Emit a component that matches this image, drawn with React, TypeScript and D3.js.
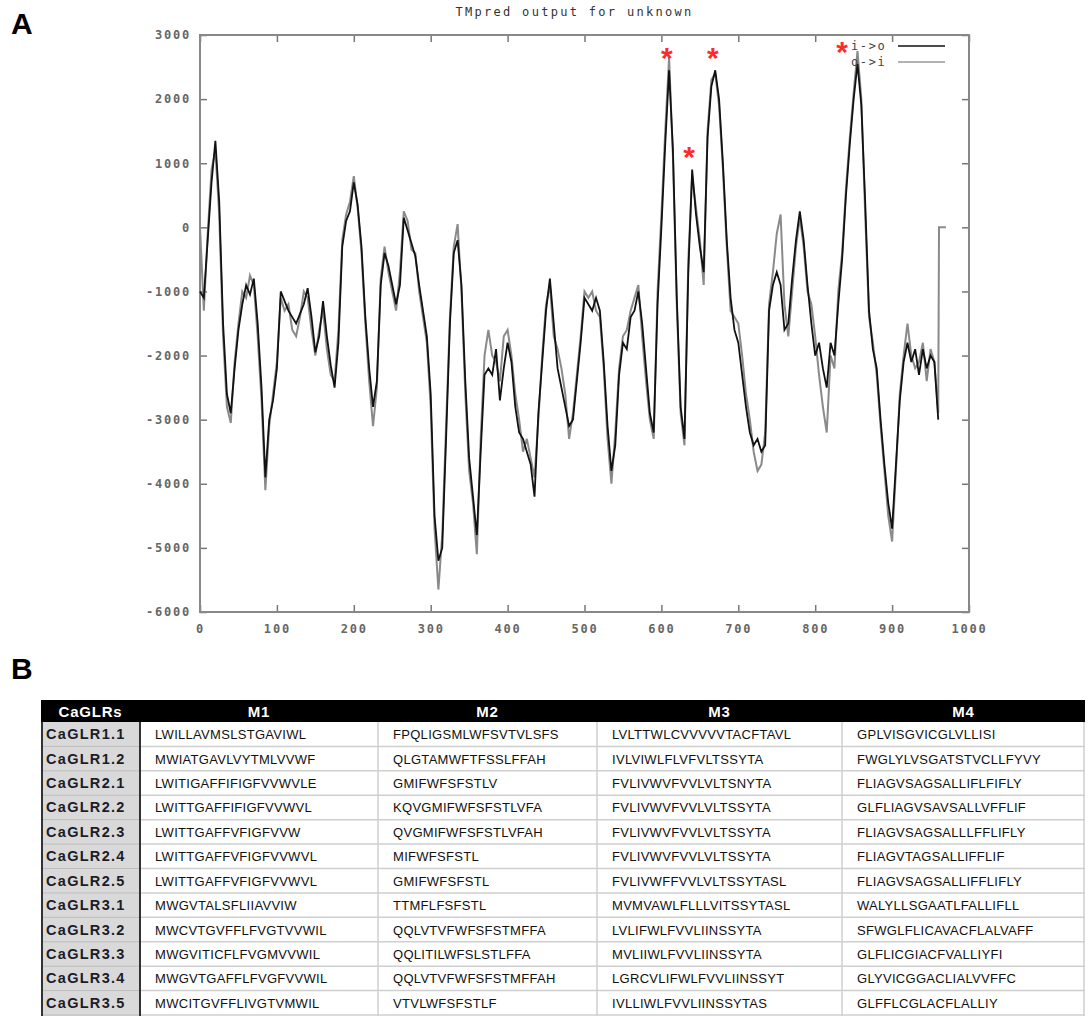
import React, { useEffect, useRef } from "react";
import * as d3 from "d3";

const residues = d3.range(0, 961, 5);
const inToOut = [
	-1000, -1100, -200, 700, 1350, 400, -1500, -2600, -2900, -2200,
	-1600, -1200, -900, -1050, -800, -1500, -2500, -3900, -3000, -2700,
	-2200, -1000, -1150, -1300, -1400, -1500, -1350, -1200, -950, -1400,
	-1950, -1700, -1150, -1700, -2150, -2500, -1800, -300, 100, 250,
	700, 350, -300, -1400, -2200, -2800, -2400, -900, -400, -600,
	-900, -1200, -900, 150, -50, -250, -450, -900, -1300, -1700,
	-2600, -4500, -5200, -5000, -3300, -1500, -400, -200, -900, -2400,
	-3600, -4200, -4800, -3500, -2300, -2200, -2300, -1900, -2700, -2200,
	-1800, -2100, -2800, -3200, -3300, -3500, -3700, -4200, -2900, -2100,
	-1300, -800, -1500, -2200, -2500, -2800, -3100, -3000, -2400, -1800,
	-1100, -1200, -1300, -1100, -1300, -2100, -3100, -3800, -3400, -2300,
	-1800, -1900, -1400, -1300, -1000, -1500, -2200, -2900, -3200, -1200,
	0, 1300, 2450, 1200, -1100, -2800, -3300, -700, 900, 200,
	-300, -700, 1400, 2200, 2450, 2000, 1000, -200, -1100, -1600,
	-1800, -2300, -2800, -3200, -3400, -3300, -3500, -3400, -1300, -900,
	-700, -900, -1600, -1500, -800, -200, 250, -200, -900, -1500,
	-2000, -1800, -2200, -2500, -1800, -2000, -1200, -500, 500, 1300,
	2000, 2550, 1900, 400, -1300, -1900, -2200, -3000, -3700, -4300,
	-4700, -3700, -2700, -2100, -1800, -2100, -1900, -2300, -1900, -2200,
	-2000, -2100, -3000,
];
const outToIn = [
	0, -1300, -100, 900, 1200, 200, -1700, -2800, -3050, -2100,
	-1500, -1000, -1100, -750, -900, -1700, -2700, -4100, -3100, -2600,
	-2100, -1100, -1300, -1200, -1600, -1700, -1400, -1000, -1100, -1600,
	-2000, -1600, -1300, -1900, -2300, -2400, -1600, -200, 200, 400,
	800, 300, -400, -1500, -2400, -3100, -2500, -800, -300, -700,
	-1000, -1300, -700, 250, 100, -350, -400, -1000, -1400, -1800,
	-2800, -4700, -5650, -4800, -3100, -1400, -300, 50, -1000, -2600,
	-3800, -4300, -5100, -3300, -2000, -1600, -2000, -2100, -2400, -1700,
	-1600, -2000, -2600, -3000, -3500, -3300, -3600, -3900, -3000, -2000,
	-1200, -900, -1700, -1900, -2200, -2600, -3300, -2900, -2300, -1700,
	-1000, -1100, -1000, -1300, -1400, -2200, -3300, -4000, -3200, -2200,
	-1700, -1600, -1300, -1100, -900, -1700, -2400, -3000, -3300, -1000,
	200, 1500, 2650, 1100, -1200, -2900, -3400, -500, 800, 300,
	-200, -900, 1500, 2300, 2400, 1900, 900, -300, -1300, -1400,
	-1500, -2000, -2600, -3000, -3500, -3800, -3700, -3200, -1200, -700,
	-100, 200, -1200, -1700, -1000, -300, 150, -300, -1000, -1200,
	-1700, -2300, -2800, -3200, -2000, -2200, -1000, -400, 600, 1400,
	2100, 2750, 2000, 200, -1400, -1800, -2300, -3100, -3800, -4500,
	-4900, -3800, -2600, -2000, -1500, -2000, -2200, -2100, -1800, -2400,
	-1900, -2100, -2900,
];
const outToInTail: [number, number][] = [
	[961, 0],
	[970, 0],
];
// red asterisks over the predicted helices
const peakMarks: [number, number][] = [
	[607, 2750],
	[636, 1200],
	[667, 2750],
	[835, 2840],
];
const xTicks = d3.range(0, 1001, 100);
const yTicks = d3.range(-6000, 3001, 1000);
const seriesNames = ["i->o", "o->i"];

// panel B table
const tableHeader = ["CaGLRs", "M1", "M2", "M3", "M4"];
const glrNames = [
	"CaGLR1.1", "CaGLR1.2", "CaGLR2.1", "CaGLR2.2", "CaGLR2.3", "CaGLR2.4",
	"CaGLR2.5", "CaGLR3.1", "CaGLR3.2", "CaGLR3.3", "CaGLR3.4", "CaGLR3.5",
];
const m1 = [
	"LWILLAVMSLSTGAVIWL", "MWIATGAVLVYTMLVVWF", "LWITIGAFFIFIGFVVWVLE",
	"LWITTGAFFIFIGFVVWVL", "LWITTGAFFVFIGFVVW", "LWITTGAFFVFIGFVVWVL",
	"LWITTGAFFVFIGFVVWVL", "MWGVTALSFLIIAVVIW", "MWCVTGVFFLFVGTVVWIL",
	"MWGVITICFLFVGMVVWIL", "MWGVTGAFFLFVGFVVWIL", "MWCITGVFFLIVGTVMWIL",
];
const m2 = [
	"FPQLIGSMLWFSVTVLSFS", "QLGTAMWFTFSSLFFAH", "GMIFWFSFSTLV",
	"KQVGMIFWFSFSTLVFA", "QVGMIFWFSFSTLVFAH", "MIFWFSFSTL",
	"GMIFWFSFSTL", "TTMFLFSFSTL", "QQLVTVFWFSFSTMFFA",
	"QQLITILWFSLSTLFFA", "QQLVTVFWFSFSTMFFAH", "VTVLWFSFSTLF",
];
const m3 = [
	"LVLTTWLCVVVVVTACFTAVL", "IVLVIWLFLVFVLTSSYTA", "FVLIVWVFVVLVLTSNYTA",
	"FVLIVWVFVVLVLTSSYTA", "FVLIVWVFVVLVLTSSYTA", "FVLIVWVFVVLVLTSSYTA",
	"FVLIVWFFVVLVLTSSYTASL", "MVMVAWLFLLLVITSSYTASL", "LVLIFWLFVVLIINSSYTA",
	"MVLIIWLFVVLIINSSYTA", "LGRCVLIFWLFVVLIINSSYT", "IVLLIWLFVVLIINSSYTAS",
];
const m4 = [
	"GPLVISGVICGLVLLISI", "FWGLYLVSGATSTVCLLFYVY", "FLIAGVSAGSALLIFLFIFLY",
	"GLFLIAGVSAVSALLVFFLIF", "FLIAGVSAGSALLLFFLIFLY", "FLIAGVTAGSALLIFFLIF",
	"FLIAGVSAGSALLIFFLIFLY", "WALYLLSGAATLFALLIFLL", "SFWGLFLICAVACFLALVAFF",
	"GLFLICGIACFVALLIYFI", "GLYVICGGACLIALVVFFC", "GLFFLCGLACFLALLIY",
];

const W = 1089;
const H = 1016;
const plot = { left: 200, top: 35, right: 969, bottom: 612 };
const mono = "'DejaVu Sans Mono', monospace";
const sans = "'Liberation Sans', Arial, sans-serif";

const App = () => {
	const ref = useRef<SVGSVGElement>(null);

	useEffect(() => {
		const svg = d3.select(ref.current);
		svg.selectAll("*").remove();

		const x = d3.scaleLinear().domain([0, 1000]).range([plot.left, plot.right]);
		const y = d3.scaleLinear().domain([-6000, 3000]).range([plot.bottom, plot.top]);

		// panel letters
		svg.append("text").attr("x", 11).attr("y", 34).text("A")
			.style("font-family", sans).style("font-weight", "bold").style("font-size", "30px");
		svg.append("text").attr("x", 11).attr("y", 679).text("B")
			.style("font-family", sans).style("font-weight", "bold").style("font-size", "30px");

		svg.append("text")
			.attr("x", (plot.left + plot.right) / 2 - 10)
			.attr("y", 16)
			.attr("text-anchor", "middle")
			.text("TMpred output for unknown")
			.style("font-family", mono)
			.style("font-size", "12px")
			.style("letter-spacing", "2.3px")
			.style("fill", "#333");

		const styleAxis = (g, showText) => {
			g.select(".domain").remove();
			g.selectAll("line").attr("stroke", "#777").attr("stroke-width", 1.5);
			g.selectAll("text")
				.style("font-family", mono)
				.style("font-size", "12px")
				.style("font-weight", "bold")
				.style("letter-spacing", "1.8px")
				.style("fill", "#666")
				.style("display", showText ? null : "none");
		};

		svg.append("g")
			.attr("transform", `translate(${plot.left},0)`)
			.call(d3.axisLeft(y).tickValues(yTicks).tickSize(-7).tickPadding(9).tickFormat((d) => String(d)))
			.call((g) => styleAxis(g, true));
		svg.append("g")
			.attr("transform", `translate(${plot.right},0)`)
			.call(d3.axisRight(y).tickValues(yTicks).tickSize(-7))
			.call((g) => styleAxis(g, false));
		svg.append("g")
			.attr("transform", `translate(0,${plot.bottom})`)
			.call(d3.axisBottom(x).tickValues(xTicks).tickSize(-7).tickPadding(12).tickFormat((d) => String(d)))
			.call((g) => styleAxis(g, true));
		svg.append("g")
			.attr("transform", `translate(0,${plot.top})`)
			.call(d3.axisTop(x).tickValues(xTicks).tickSize(-7))
			.call((g) => styleAxis(g, false));

		svg.append("rect")
			.attr("x", plot.left)
			.attr("y", plot.top)
			.attr("width", plot.right - plot.left)
			.attr("height", plot.bottom - plot.top)
			.attr("fill", "none")
			.attr("stroke", "#888")
			.attr("stroke-width", 2);

		const line = d3.line<[number, number]>()
			.x((d) => x(d[0]))
			.y((d) => y(d[1]));

		const ioData = residues.map((r, i) => [r, inToOut[i]] as [number, number]);
		const oiData = residues.map((r, i) => [r, outToIn[i]] as [number, number]).concat(outToInTail);

		svg.append("path")
			.datum(oiData)
			.attr("d", line)
			.attr("fill", "none")
			.attr("stroke", "#8a8a8a")
			.attr("stroke-width", 2);
		svg.append("path")
			.datum(ioData)
			.attr("d", line)
			.attr("fill", "none")
			.attr("stroke", "#111")
			.attr("stroke-width", 1.8);

		// legend
		const legend = svg.append("g");
		seriesNames.forEach((name, i) => {
			const ly = 46 + i * 16;
			legend.append("text")
				.attr("x", 851)
				.attr("y", ly + 4)
				.text(name)
				.style("font-family", mono)
				.style("font-size", "12px")
				.style("letter-spacing", "1.6px")
				.style("fill", "#444");
			legend.append("line")
				.attr("x1", 898)
				.attr("x2", 945)
				.attr("y1", ly)
				.attr("y2", ly)
				.attr("stroke", i === 0 ? "#111" : "#999")
				.attr("stroke-width", 1.5);
		});

		svg.selectAll(".peak")
			.data(peakMarks)
			.enter()
			.append("text")
			.attr("class", "peak")
			.attr("x", (d) => x(d[0]))
			.attr("y", (d) => y(d[1]) + 17)
			.attr("text-anchor", "middle")
			.text("*")
			.style("font-family", sans)
			.style("font-weight", "bold")
			.style("font-size", "30px")
			.style("fill", "#ff2a2a");

		// table (panel B)
		const colEdges = [41, 140, 378, 597, 842, 1085];
		const headerTop = 700;
		const headerBottom = 722;
		const rows = d3.scaleBand().domain(glrNames).range([headerBottom, 1015]);
		const columns = [glrNames, m1, m2, m3, m4];

		const tbl = svg.append("g");
		tbl.append("rect")
			.attr("x", colEdges[0])
			.attr("y", headerTop)
			.attr("width", colEdges[5] - colEdges[0])
			.attr("height", headerBottom - headerTop)
			.attr("fill", "#000");
		tbl.append("rect")
			.attr("x", colEdges[0])
			.attr("y", headerBottom)
			.attr("width", colEdges[1] - colEdges[0])
			.attr("height", 1016 - headerBottom)
			.attr("fill", "#d9d9d9");

		tbl.selectAll(".hcell")
			.data(tableHeader)
			.enter()
			.append("text")
			.attr("x", (d, i) => (colEdges[i] + colEdges[i + 1]) / 2)
			.attr("y", headerBottom - 5)
			.attr("text-anchor", "middle")
			.text((d) => d)
			.style("font-family", sans)
			.style("font-weight", "bold")
			.style("font-size", "15px")
			.style("letter-spacing", "0.8px")
			.style("fill", "#fff");

		// grid lines
		glrNames.forEach((name) => {
			const yb = rows(name) + rows.bandwidth();
			tbl.append("line")
				.attr("x1", colEdges[1]).attr("x2", colEdges[5])
				.attr("y1", yb).attr("y2", yb)
				.attr("stroke", "#cfcfcf").attr("stroke-width", 1.5);
			tbl.append("line")
				.attr("x1", colEdges[0]).attr("x2", colEdges[1])
				.attr("y1", yb).attr("y2", yb)
				.attr("stroke", "#bdbdbd").attr("stroke-width", 1);
		});
		colEdges.slice(2, 5).forEach((cx) => {
			tbl.append("line")
				.attr("x1", cx).attr("x2", cx)
				.attr("y1", headerBottom).attr("y2", 1016)
				.attr("stroke", "#cfcfcf").attr("stroke-width", 1.5);
		});
		tbl.append("line")
			.attr("x1", colEdges[5] - 1).attr("x2", colEdges[5] - 1)
			.attr("y1", headerBottom).attr("y2", 1016)
			.attr("stroke", "#cfcfcf").attr("stroke-width", 1.5);
		[colEdges[0] + 1, colEdges[1]].forEach((cx) => {
			tbl.append("line")
				.attr("x1", cx).attr("x2", cx)
				.attr("y1", headerBottom).attr("y2", 1016)
				.attr("stroke", "#333").attr("stroke-width", 2);
		});

		columns.forEach((col, ci) => {
			tbl.selectAll(`.c${ci}`)
				.data(col)
				.enter()
				.append("text")
				.attr("x", ci === 0 ? colEdges[0] + 5 : colEdges[ci] + 15)
				.attr("y", (d, i) => rows(glrNames[i]) + rows.bandwidth() / 2 + 5)
				.text((d) => d)
				.style("font-family", sans)
				.style("font-size", ci === 0 ? "14.5px" : "13px")
				.style("font-weight", ci === 0 ? "bold" : "normal")
				.style("letter-spacing", ci === 0 ? "1.3px" : "0.3px")
				.style("fill", ci === 0 ? "#1c1c28" : "#111");
		});
	}, []);

	return (
		<svg
			ref={ref}
			width={W}
			height={H}
			style={{ position: "absolute", left: 0, top: 0, background: "#fff" }}
		></svg>
	);
};

export default App;
